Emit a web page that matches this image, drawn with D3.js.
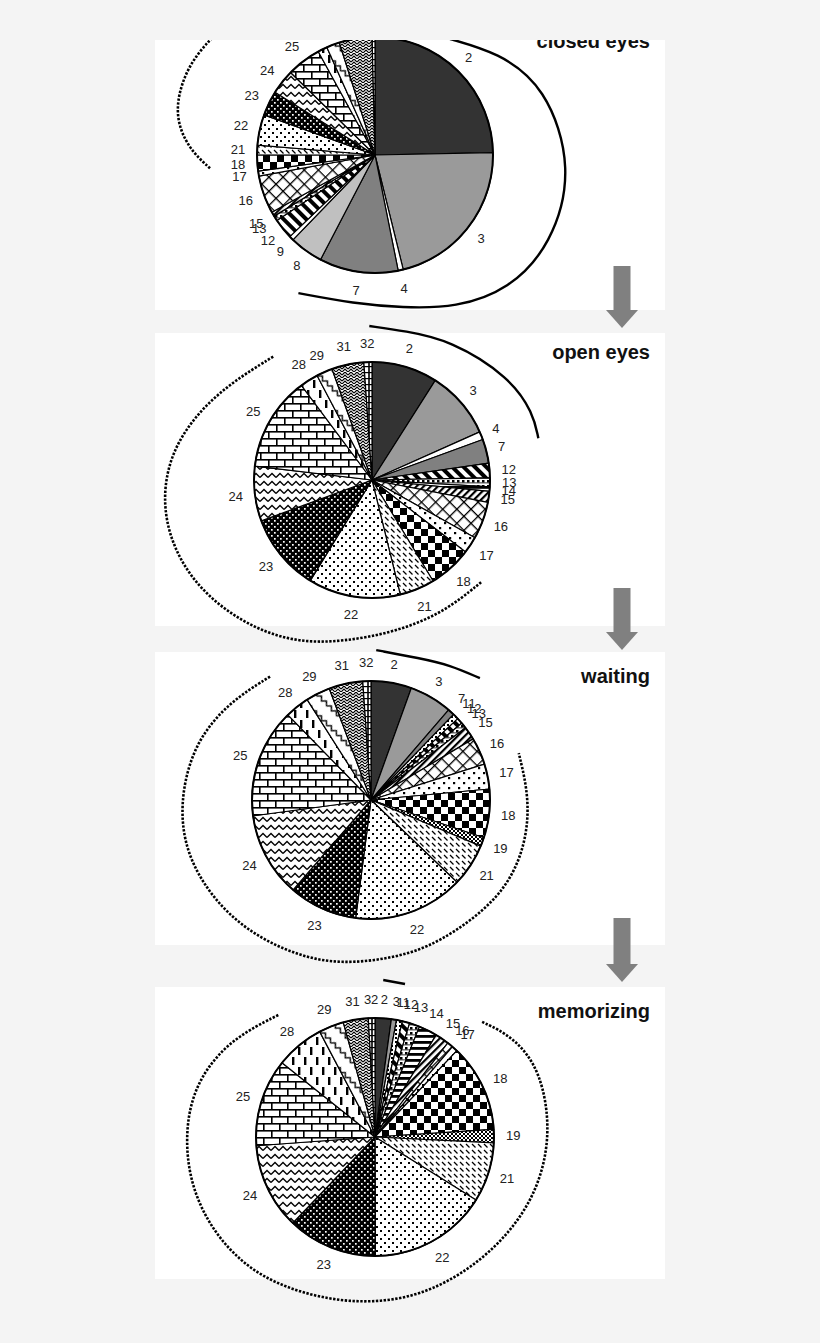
<!DOCTYPE html>
<html><head><meta charset="utf-8">
<script src="https://cdn.jsdelivr.net/npm/d3@7"></script>
<style>html,body{margin:0;padding:0;background:#f4f4f4;}svg{display:block}</style>
</head><body>
<svg id="chart" width="820" height="1343"></svg>
<script>
// ---------- DATA ----------
const categories = ["2","3","4","7","8","9","11","12","13","14","15","16","17","18","19","21","22","23","24","25","28","29","31","32"];
const closedEyes = [24.7,21.5,0.7,10.8,4.6,0.6,0,2.8,0.7,0,0.6,5.2,0.7,2.2,0,1.3,4.2,3.4,3.4,4.7,1.3,1.8,4.5,0.4];
const openEyes   = [9.0,9.3,1.1,3.3,0,0,0,2.0,1.2,0.6,1.5,5.1,2.3,5.9,0,4.8,12.6,10.6,7.5,12.9,2.5,2.2,4.4,1.1];
const waiting    = [5.5,5.8,0,0.9,0,0,0.8,0.8,0.8,0,1.8,3.7,3.4,6.6,1.2,5.8,14.9,9.3,11.5,14.8,3.3,3.3,4.6,1.1];
const memorizing = [2.2,0.7,0,0,0,0,0.8,1.0,1.4,2.5,1.9,0.8,0.8,11.9,1.8,8.1,16.1,12.2,11.7,11.9,6.6,3.4,3.4,0.9];
const titles = ["closed eyes","open eyes","waiting","memorizing"];
const seriesList = [closedEyes, openEyes, waiting, memorizing];

// ---------- LAYOUT / STYLE ----------
const panels = [
  {x:155,y:40, w:510,h:270, cx:375,cy:155, r:118, titleY:48},
  {x:155,y:333,w:510,h:293, cx:372,cy:480, r:118, titleY:359},
  {x:155,y:652,w:510,h:293, cx:371,cy:800, r:119, titleY:683},
  {x:155,y:987,w:510,h:292, cx:375,cy:1137,r:119, titleY:1018}
];
const arrows = [{x:622,y0:266,y1:328},{x:622,y0:588,y1:650},{x:622,y0:918,y1:982}];
// group brackets: polar points [angle deg clockwise from top, radius] around the pie centre
const brackets = [
  {panel:0, dotted:false, pts:[[18,133],[33,138],[50,160],[68,184],[94,199],[117,198],[135,190],[152,173],[170,155],[188,150],[209,158]]},
  {panel:0, dotted:true,  pts:[[265.4,165.5],[272,187],[281.8,206],[294.5,208],[305.2,202],[314,196]]},
  {panel:1, dotted:false, pts:[[-1,154],[12.5,152.6],[29.1,160.3],[53.2,172],[67.5,174.5],[75.9,171.5]]},
  {panel:1, dotted:true,  pts:[[321.3,158],[305,171],[290,189],[276,205],[262,212],[248,210],[234,202],[218.3,190],[204,178],[190,164],[172,154],[152,151],[132.8,149.6]]},
  {panel:2, dotted:false, pts:[[2,150],[19,150],[30.3,156.4],[41.8,163.4]]},
  {panel:2, dotted:true,  pts:[[320.7,159.4],[305,172],[288,186],[269,192],[252.8,193],[236,186],[221,179],[205,172],[190.6,167],[172,160],[155,159],[127.8,163],[108.2,162],[90,159],[72.4,155]]},
  {panel:3, dotted:false, pts:[[3,157.2],[11.1,155.9]]},
  {panel:3, dotted:true,  pts:[[321.6,155.7],[305,173],[290,185],[276.2,190],[260,191],[245,189],[230,185],[215.2,179],[196,170],[178,166],[160,165],[137,165],[112.7,172],[90,177],[68.1,179],[54,170.8],[42.8,157.1]]}
];

const svg = d3.select("#chart");
const defs = svg.append("defs");
defs.append("clipPath").attr("id","topclip").append("rect")
  .attr("x",0).attr("y",40).attr("width",820).attr("height",1303);

function mkPat(id, w, h, bg, fn, rot) {
  const p = defs.append("pattern").attr("id", id)
    .attr("patternUnits","userSpaceOnUse").attr("width",w).attr("height",h);
  if (rot) p.attr("patternTransform", `rotate(${rot})`);
  p.append("rect").attr("width",w).attr("height",h).attr("fill",bg);
  fn(p);
}
const K = "#000";
mkPat("p11",4,4,"#fff",p=>{p.append("rect").attr("width",2).attr("height",2).attr("fill",K);});
mkPat("p12",8,8,"#fff",p=>{p.append("rect").attr("width",4).attr("height",8).attr("fill",K);},-45);
mkPat("p13",5,5,"#fff",p=>{p.append("rect").attr("width",2.5).attr("height",2.5).attr("fill",K);p.append("rect").attr("y",2.5).attr("width",5).attr("height",0.8).attr("fill",K);});
mkPat("p14",6,6,"#fff",p=>{p.append("rect").attr("width",6).attr("height",2.8).attr("fill",K);});
mkPat("p15",5,5,"#fff",p=>{p.append("rect").attr("width",2.2).attr("height",5).attr("fill",K);},45);
mkPat("p16",10,10,"#fff",p=>{p.append("rect").attr("width",10).attr("height",1.3).attr("fill",K);p.append("rect").attr("width",1.3).attr("height",10).attr("fill",K);},45);
mkPat("p17",10,10,"#fff",p=>{p.append("rect").attr("x",2).attr("y",2).attr("width",2.2).attr("height",2.2).attr("fill",K);p.append("rect").attr("x",7).attr("y",7).attr("width",2.2).attr("height",2.2).attr("fill",K);});
mkPat("p18",14,14,"#fff",p=>{p.append("rect").attr("width",7).attr("height",7).attr("fill",K);p.append("rect").attr("x",7).attr("y",7).attr("width",7).attr("height",7).attr("fill",K);});
mkPat("p19",4,4,"#fff",p=>{p.append("rect").attr("width",2).attr("height",2).attr("fill",K);p.append("rect").attr("x",2).attr("y",2).attr("width",2).attr("height",2).attr("fill",K);});
mkPat("p21",6,6,"#fff",p=>{p.append("path").attr("d","M1,1L4.5,4.5").attr("stroke",K).attr("stroke-width",1.3);});
mkPat("p22",8,8,"#fff",p=>{p.append("rect").attr("x",1).attr("y",1).attr("width",2).attr("height",2).attr("fill",K);p.append("rect").attr("x",5).attr("y",5).attr("width",2).attr("height",2).attr("fill",K);});
mkPat("p23",6,6,K,p=>{p.append("rect").attr("x",1).attr("y",1).attr("width",1.7).attr("height",1.7).attr("fill","#fff");p.append("rect").attr("x",4).attr("y",4).attr("width",1.7).attr("height",1.7).attr("fill","#fff");});
mkPat("p24",8,8,"#fff",p=>{p.append("path").attr("d","M0,5.5L4,1.5L8,5.5").attr("fill","none").attr("stroke",K).attr("stroke-width",1.3);});
mkPat("p25",16,14,"#fff",p=>{
  p.append("rect").attr("y",0).attr("width",16).attr("height",1.6).attr("fill",K);
  p.append("rect").attr("y",7).attr("width",16).attr("height",1.6).attr("fill",K);
  p.append("rect").attr("x",0).attr("y",0).attr("width",1.6).attr("height",7).attr("fill",K);
  p.append("rect").attr("x",8).attr("y",7).attr("width",1.6).attr("height",7).attr("fill",K);});
mkPat("p28",12,20,"#fff",p=>{p.append("rect").attr("x",1).attr("y",0).attr("width",2.4).attr("height",8).attr("fill",K);p.append("rect").attr("x",7).attr("y",10).attr("width",2.4).attr("height",8).attr("fill",K);});
mkPat("p29",14,14,"#fff",p=>{p.append("path").attr("d","M0,7L3.5,3.5L7,7L10.5,3.5L14,7").attr("fill","none").attr("stroke",K).attr("stroke-width",1.3);},45);
mkPat("p31",6,6,"#fff",p=>{p.append("path").attr("d","M0,3L3,0L6,3M0,6L3,3L6,6").attr("fill","none").attr("stroke",K).attr("stroke-width",1.2);});
mkPat("p32",6,6,"#fff",p=>{p.append("rect").attr("x",2.2).attr("width",1.6).attr("height",6).attr("fill",K);p.append("rect").attr("y",0).attr("width",6).attr("height",1.2).attr("fill",K);});

const fillStyle = {
  "2":"#333333","3":"#9a9a9a","4":"#ffffff","7":"#808080","8":"#c0c0c0","9":"#ffffff",
  "11":"url(#p11)","12":"url(#p12)","13":"url(#p13)","14":"url(#p14)","15":"url(#p15)",
  "16":"url(#p16)","17":"url(#p17)","18":"url(#p18)","19":"url(#p19)","21":"url(#p21)",
  "22":"url(#p22)","23":"url(#p23)","24":"url(#p24)","25":"url(#p25)","28":"url(#p28)",
  "29":"url(#p29)","31":"url(#p31)","32":"url(#p32)"
};

const root = svg.append("g").attr("clip-path","url(#topclip)");
const font = "'Liberation Sans', Arial, sans-serif";

// panels
panels.forEach(P => {
  root.append("rect").attr("x",P.x).attr("y",P.y).attr("width",P.w).attr("height",P.h).attr("fill","#fff");
});

// arrows
arrows.forEach(a => {
  const head = 18;
  root.append("rect").attr("x",a.x-8.5).attr("y",a.y0).attr("width",17).attr("height",a.y1-a.y0-head).attr("fill","#808080");
  root.append("path").attr("d",`M${a.x-16},${a.y1-head}L${a.x+16},${a.y1-head}L${a.x},${a.y1}Z`).attr("fill","#808080");
});

const pie = d3.pie().sort(null).value(d => d.value);
const toRad = d => d * Math.PI / 180;

panels.forEach((P, i) => {
  const g = root.append("g").attr("transform",`translate(${P.cx},${P.cy})`);
  const data = categories.map((c, j) => ({cat:c, value:seriesList[i][j]})).filter(d => d.value > 0);
  const arcs = pie(data);
  const arc = d3.arc().innerRadius(0).outerRadius(P.r);
  g.selectAll("path.slice").data(arcs).join("path").attr("class","slice")
    .attr("d", arc).attr("fill", d => fillStyle[d.data.cat])
    .attr("stroke", "#000").attr("stroke-width", 1.2).attr("stroke-linejoin","round");
  g.append("circle").attr("r",P.r).attr("fill","none").attr("stroke","#000").attr("stroke-width",2);

  // labels (outside end)
  arcs.forEach(d => {
    const a = (d.startAngle + d.endAngle) / 2;
    const s = Math.sin(a), c = -Math.cos(a);
    const R = P.r + 12;
    const t = g.append("text").text(d.data.cat)
      .attr("font-family", font).attr("font-size", 13).attr("fill", "#222")
      .attr("text-anchor","middle").attr("dominant-baseline","central");
    const w = t.node().getComputedTextLength();
    t.attr("x", R*s + s*w/2).attr("y", R*c + c*6.5);
  });

  // title
  root.append("text").text(titles[i]).attr("x",650).attr("y",P.titleY)
    .attr("text-anchor","end").attr("font-family",font).attr("font-weight","bold")
    .attr("font-size",20).attr("fill","#111");
});

// brackets
const radial = d3.lineRadial().angle(d => toRad(d[0])).radius(d => d[1]).curve(d3.curveBasis);
brackets.forEach(b => {
  const P = panels[b.panel];
  root.append("path").attr("transform",`translate(${P.cx},${P.cy})`)
    .attr("d", radial(b.pts)).attr("fill","none").attr("stroke","#000")
    .attr("stroke-width", b.dotted ? 2.6 : 2.4)
    .attr("stroke-dasharray", b.dotted ? "2.4 1.5" : null);
});
</script>
</body></html>
